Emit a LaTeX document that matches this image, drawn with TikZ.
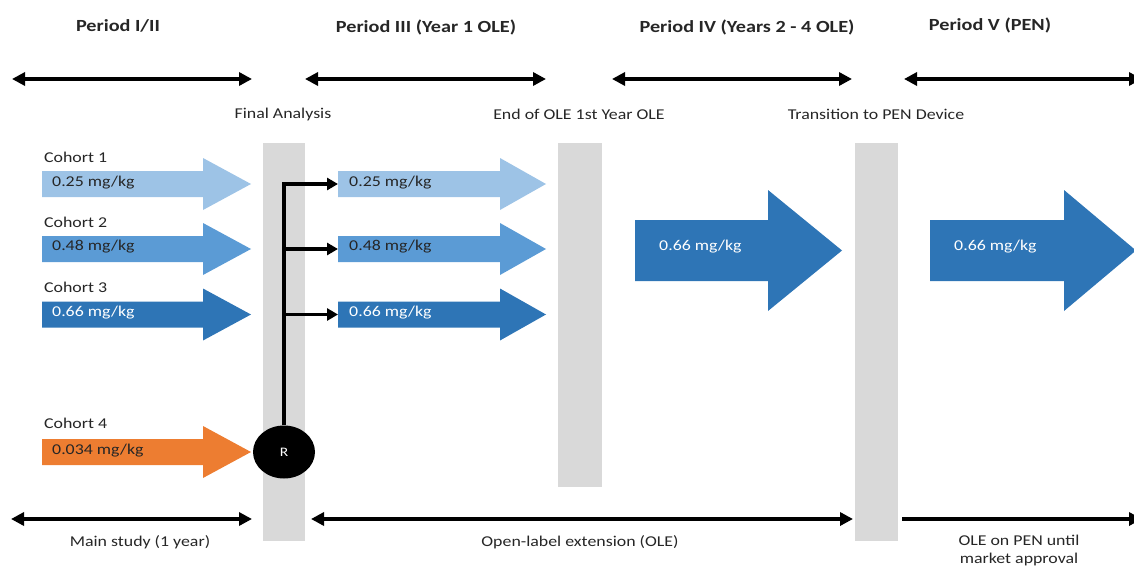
\documentclass[tikz,border=0pt]{standalone}
\usepackage{fontspec}
\setmainfont{Carlito}[FakeStretch=1.19]
\usetikzlibrary{arrows.meta,shapes.geometric}
\definecolor{lb}{HTML}{9DC3E6}
\definecolor{mb}{HTML}{5B9BD5}
\definecolor{db}{HTML}{2E75B6}
\definecolor{orng}{HTML}{ED7D31}
\definecolor{gb}{HTML}{D9D9D9}
\definecolor{tx}{HTML}{262626}
\newcommand\blkarrow[7]{% colour, x left, x head, x tip, y centre, body half, head half
  \fill[#1] (#2,{#5-#6}) -- (#3,{#5-#6}) -- (#3,{#5-#7}) -- (#4,#5) -- (#3,{#5+#7}) -- (#3,{#5+#6}) -- (#2,{#5+#6}) -- cycle;}
\begin{document}
\begin{tikzpicture}[x=1pt,y=-1pt,
  title/.style={font=\fontsize{17}{20}\selectfont\bfseries, text=tx, inner sep=0pt},
  lbl/.style={font=\fontsize{15}{18}\selectfont, text=tx, inner sep=0pt},
  wlbl/.style={lbl, text=white},
  span/.style={line width=3.5pt, {Triangle[length=13pt,width=13pt]}-{Triangle[length=13pt,width=13pt]}},
  spanr/.style={line width=3.5pt, -{Triangle[length=13pt,width=13pt]}},
  branch/.style={line width=3.2pt, -{Triangle[length=11pt,width=12pt]}},
  bar/.style={fill=gb}]
\useasboundingbox (0,0) rectangle (1134,567);
\clip (0,0) rectangle (1134,567);
% titles
\node[title] (t1) at (118,26) {Period I/II};
\node[title] (t2) at (426,27) {Period III (Year 1 OLE)};
\node[title] (t3) at (747,27) {Period IV (Years 2 - 4 OLE)};
\node[title] (t4) at (990,25) {Period V (PEN)};
% top spans
\coordinate (a1l) at (12,79); \coordinate (a1r) at (252,79);
\coordinate (a2l) at (305,79); \coordinate (a2r) at (546,79);
\coordinate (a3l) at (612,79); \coordinate (a3r) at (852,79);
\coordinate (a4l) at (904,79); \coordinate (a4r) at (1142,79);
\draw[span] (a1l) -- (a1r);
\draw[span] (a2l) -- (a2r);
\draw[span] (a3l) -- (a3r);
\draw[span] (a4l) -- (a4r);
% milestone labels
\node[lbl] (m1) at (283,115) {Final Analysis};
\node[lbl] (m2) at (579,114) {End of OLE 1st Year OLE};
\node[lbl] (m3) at (876,114) {Transition to PEN Device};
% grey bars
\fill[bar] (263,143) rectangle (305,541);
\fill[bar] (558,143) rectangle (602,487);
\fill[bar] (855,143) rectangle (898,541);
% cohort labels
\node[lbl, anchor=west] (c1) at (44,157) {Cohort 1};
\node[lbl, anchor=west] (c2) at (44,222) {Cohort 2};
\node[lbl, anchor=west] (c3) at (44,287) {Cohort 3};
\node[lbl, anchor=west] (c4) at (44,423) {Cohort 4};
% left arrows
\blkarrow{lb}{42}{203}{251}{184}{13}{26}
\blkarrow{mb}{42}{203}{251}{249}{13}{26}
\blkarrow{db}{42}{203}{251}{314.5}{13}{26}
\blkarrow{orng}{42}{203}{251}{452}{13}{26}
\node[lbl, anchor=west] (d1) at (52,183) {0.25 mg/kg};
\node[lbl, anchor=west] (d2) at (52,247) {0.48 mg/kg};
\node[wlbl, anchor=west] (d3) at (52,313) {0.66 mg/kg};
\node[lbl, anchor=west] (d4) at (52,451) {0.034 mg/kg};
% middle arrows
\blkarrow{lb}{338}{500}{546}{184}{13}{26}
\blkarrow{mb}{338}{500}{546}{249}{13}{26}
\blkarrow{db}{338}{500}{546}{314.5}{13}{26}
\node[lbl, anchor=west] (e1) at (349,183) {0.25 mg/kg};
\node[lbl, anchor=west] (e2) at (349,247) {0.48 mg/kg};
\node[wlbl, anchor=west] (e3) at (349,313) {0.66 mg/kg};
% big arrows
\blkarrow{db}{635}{768}{842}{250.5}{30.5}{60.5}
\blkarrow{db}{930}{1064}{1136}{250.5}{30.5}{60.5}
\node[wlbl, anchor=west] (f1) at (659,247) {0.66 mg/kg};
\node[wlbl, anchor=west] (f2) at (954,247) {0.66 mg/kg};
% randomisation
\node[ellipse, fill=black, minimum width=62pt, minimum height=53pt, inner sep=0pt,
  text=white, font=\fontsize{13}{15}\selectfont] (R) at (284,452) {R};
\coordinate (j1) at (284,184);
\coordinate (j2) at (284,249);
\coordinate (j3) at (284,314.5);
\coordinate (g1) at (338,184);
\coordinate (g2) at (338,249);
\coordinate (g3) at (338,314.5);
\draw[branch] (R.north) -- (j1) -- (g1);
\draw[branch] (j2) -- (g2);
\draw[branch] (j3) -- (g3);
% bottom spans
\coordinate (b1l) at (11,519); \coordinate (b1r) at (252,519);
\coordinate (b2l) at (311,519); \coordinate (b2r) at (853,519);
\coordinate (b3l) at (902,519); \coordinate (b3r) at (1142,519);
\draw[span] (b1l) -- (b1r);
\draw[span] (b2l) -- (b2r);
\draw[spanr] (b3l) -- (b3r);
\node[lbl] (s1) at (140,542) {Main study (1 year)};
\node[lbl] (s2) at (580,542) {Open-label extension (OLE)};
\node[lbl, align=center, font=\fontsize{15}{18}\selectfont] (s3) at (1019,550) {OLE on PEN until\\market approval};
\end{tikzpicture}
\end{document}
